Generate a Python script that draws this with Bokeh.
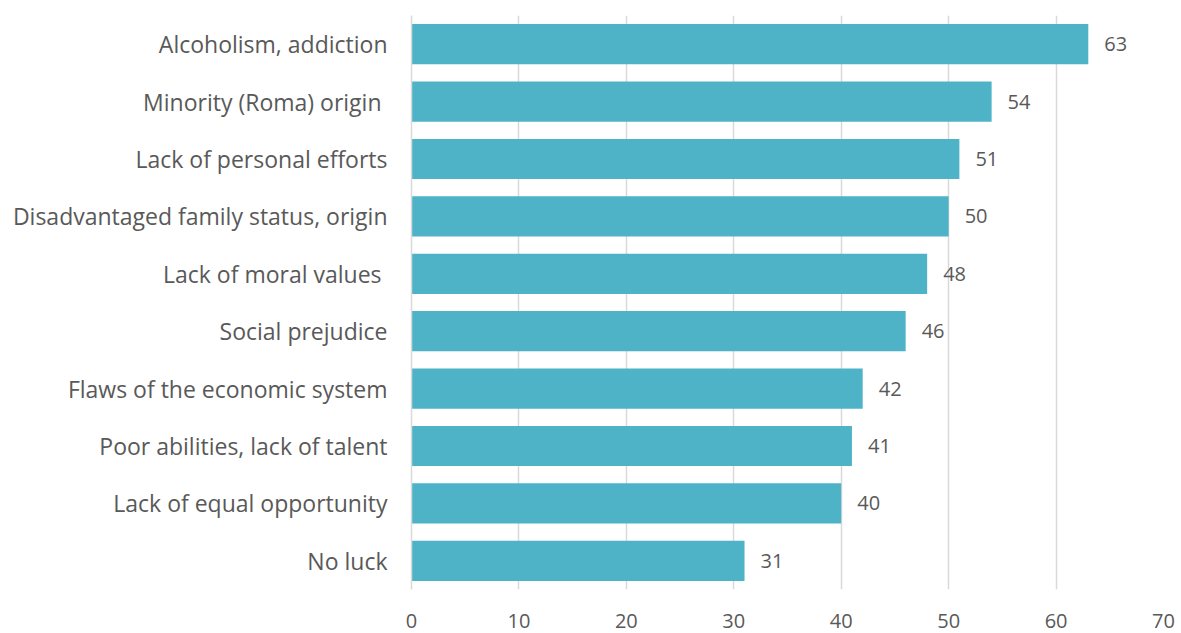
from bokeh.plotting import figure
from bokeh.models import ColumnDataSource, FixedTicker
from bokeh.core.properties import value
from bokeh.embed import file_html
from bokeh.resources import INLINE

categories = [
    "Alcoholism, addiction",
    "Minority (Roma) origin ",
    "Lack of personal efforts",
    "Disadvantaged family status, origin",
    "Lack of moral values ",
    "Social prejudice",
    "Flaws of the economic system",
    "Poor abilities, lack of talent",
    "Lack of equal opportunity",
    "No luck",
]
values = [63, 54, 51, 50, 48, 46, 42, 41, 40, 31]
x_ticks = [0, 10, 20, 30, 40, 50, 60, 70]

FONT = "Open Sans"
GRAY = "#595959"

src = ColumnDataSource(dict(cat=categories, val=values, lab=[str(v) for v in values]))

p = figure(
    width=1181, height=633,
    y_range=list(reversed(categories)),
    x_range=(0, 70),
    output_backend="svg", toolbar_location=None,
    min_border_left=411, min_border_right=18,
    min_border_top=15, min_border_bottom=44,
)
p.y_range.range_padding = 0
p.outline_line_color = None

p.hbar(y="cat", right="val", left=0, height=0.7, source=src,
       fill_color="#4FB3C8", line_color=None)

p.text(x="val", y="cat", text="lab", source=src, x_offset=16,
       text_baseline="middle", text_align="left",
       text_font_size="20px", text_color=GRAY, text_font=value(FONT))

p.xaxis.ticker = FixedTicker(ticks=x_ticks)
p.xaxis.axis_line_color = None
p.xaxis.major_tick_line_color = None
p.xaxis.minor_tick_line_color = None
p.xaxis.major_label_text_font = FONT
p.xaxis.major_label_text_font_size = "20px"
p.xaxis.major_label_text_color = GRAY
p.xaxis.major_label_standoff = 18

p.yaxis.axis_line_color = "#d9d9d9"
p.yaxis.axis_line_width = 1.5
p.yaxis.major_tick_line_color = None
p.yaxis.minor_tick_line_color = None
p.yaxis.major_label_text_font = FONT
p.yaxis.major_label_text_font_size = "23px"
p.yaxis.major_label_text_color = GRAY
p.yaxis.major_label_standoff = 18

p.ygrid.grid_line_color = None
p.xgrid.grid_line_color = "#d9d9d9"
p.xgrid.grid_line_width = 1.5

open("out.html", "w").write(file_html(p, INLINE))
